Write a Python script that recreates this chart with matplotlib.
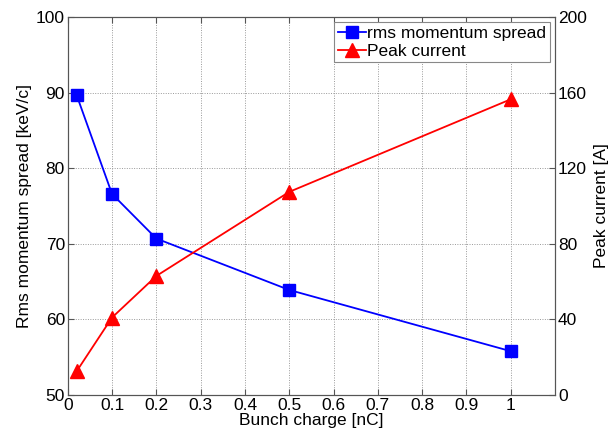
import matplotlib
matplotlib.use('Agg')
import matplotlib.pyplot as plt

plt.rcParams['font.family'] = ['Liberation Sans', 'DejaVu Sans']

charge = [0.02, 0.1, 0.2, 0.5, 1.0]
spread = [89.7, 76.6, 70.7, 63.9, 55.8]
peak = [12.5, 41.0, 63.0, 107.5, 156.5]

xticks = [0, 0.1, 0.2, 0.3, 0.4, 0.5, 0.6, 0.7, 0.8, 0.9, 1]
xticklabels = ['0', '0.1', '0.2', '0.3', '0.4', '0.5', '0.6', '0.7', '0.8', '0.9', '1']
lticks = [50, 60, 70, 80, 90, 100]
rticks = [0, 40, 80, 120, 160, 200]

fs = 12.5
fig = plt.figure(figsize=(6.1, 4.37), dpi=100)
ax = fig.add_axes([0.111, 0.096, 0.799, 0.865])
ax2 = ax.twinx()

l1, = ax.plot(charge, spread, color='#0000ff', lw=1.3, marker='s', ms=9,
              mfc='#0000ff', mec='#0000ff', label='rms momentum spread')
l2, = ax2.plot(charge, peak, color='#ff0000', lw=1.3, marker='^', ms=10,
               mfc='#ff0000', mec='#ff0000', label='Peak current')

ax.set_xlim(0, 1.1)
ax.set_ylim(50, 100)
ax2.set_ylim(0, 200)
ax.set_xticks(xticks)
ax.set_xticklabels(xticklabels)
ax.set_yticks(lticks)
ax2.set_yticks(rticks)
ax.grid(True, color='#999999', ls=(0, (1, 1.5)), lw=0.7)
for a in (ax, ax2):
    a.tick_params(direction='in', labelsize=fs, length=4, pad=2, color='#555555')
    for s in a.spines.values():
        s.set_color('#555555')
ax.tick_params(top=True)

ax.set_xlabel('Bunch charge [nC]', fontsize=fs, labelpad=0)
ax.set_ylabel('Rms momentum spread [keV/c]', fontsize=fs, labelpad=3)
ax2.set_ylabel('Peak current [A]', fontsize=fs, labelpad=5)

leg = ax2.legend(handles=[l1, l2], loc='upper right', fontsize=fs,
                 fancybox=False, framealpha=1, edgecolor='#888888',
                 handlelength=1.6, handletextpad=0.1, borderpad=0.2,
                 labelspacing=0.15, borderaxespad=0.3)
leg.get_frame().set_linewidth(0.8)

fig.savefig('out.png')
